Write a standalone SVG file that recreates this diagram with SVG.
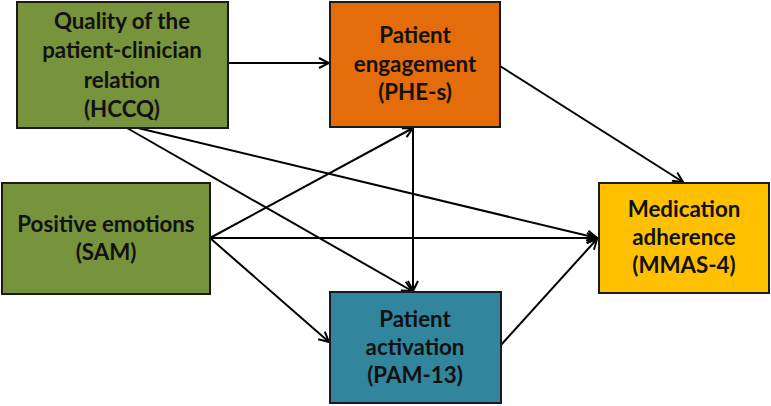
<svg xmlns="http://www.w3.org/2000/svg" width="771" height="406" viewBox="0 0 771 406">
<defs>
<style>
.box{stroke:#1a1a1a;stroke-width:2}
.t{font-family:Lato,"Open Sans","Liberation Sans",sans-serif;font-weight:bold;font-size:22.3px;fill:#111;text-anchor:middle}
.c{stroke:#000;stroke-width:2;fill:none;marker-end:url(#ah)}
</style>
<marker id="ah" viewBox="0 0 12 12" refX="11" refY="6" markerWidth="12" markerHeight="12" markerUnits="userSpaceOnUse" orient="auto">
<path d="M1,1 L11,6 L1,11" fill="none" stroke="#000" stroke-width="2"/>
</marker>
</defs>
<rect width="771" height="406" fill="#fff"/>
<g id="connectors">
<line class="c" x1="228" y1="63" x2="329" y2="63"/>
<line class="c" x1="500" y1="66" x2="683" y2="182"/>
<line class="c" x1="138" y1="128" x2="597" y2="238"/>
<line class="c" x1="127" y1="128" x2="412" y2="291"/>
<line class="c" x1="210" y1="238" x2="413" y2="128"/>
<line class="c" x1="210" y1="238" x2="597" y2="238"/>
<line class="c" x1="210" y1="238" x2="329" y2="342"/>
<line class="c" x1="413" y1="127" x2="413" y2="291"/>
<line class="c" x1="501" y1="345" x2="597" y2="239"/>
</g>
<g id="hccq">
<rect class="box" x="17" y="2" width="211" height="126" fill="#77933C"/>
<text class="t" x="122" y="29">Quality of the</text>
<text class="t" x="122" y="58">patient-clinician</text>
<text class="t" x="122" y="88">relation</text>
<text class="t" x="122" y="117">(HCCQ)</text>
</g>
<g id="phes">
<rect class="box" x="330" y="2" width="170" height="125" fill="#E46C0A"/>
<text class="t" x="415" y="43">Patient</text>
<text class="t" x="415" y="72">engagement</text>
<text class="t" x="415" y="100">(PHE-s)</text>
</g>
<g id="sam">
<rect class="box" x="2" y="183" width="208" height="111" fill="#77933C"/>
<text class="t" x="106" y="232">Positive emotions</text>
<text class="t" x="106" y="260">(SAM)</text>
</g>
<g id="pam">
<rect class="box" x="330" y="292" width="171" height="111" fill="#31859C"/>
<text class="t" x="415" y="327">Patient</text>
<text class="t" x="415" y="355">activation</text>
<text class="t" x="415" y="383">(PAM-13)</text>
</g>
<g id="mmas">
<rect class="box" x="599" y="183" width="170" height="110" fill="#FFC000"/>
<text class="t" x="684" y="217">Medication</text>
<text class="t" x="684" y="245">adherence</text>
<text class="t" x="684" y="273">(MMAS-4)</text>
</g>
</svg>
